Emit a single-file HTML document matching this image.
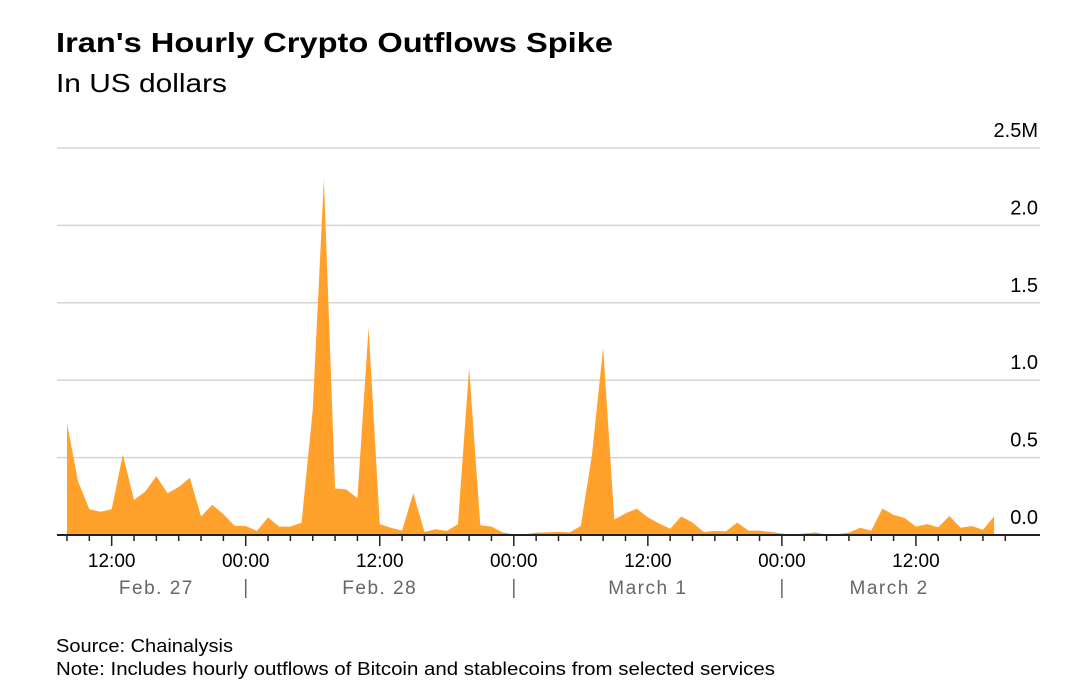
<!DOCTYPE html>
<html><head><meta charset="utf-8"><style>
body{margin:0;background:#fff;}
svg{display:block;font-family:"Liberation Sans",sans-serif;}
</style></head><body>
<svg id="chart" width="1080" height="693">
<text x="56" y="52" font-size="28" font-weight="bold" fill="#000" textLength="557" lengthAdjust="spacingAndGlyphs">Iran's Hourly Crypto Outflows Spike</text>
<text x="56" y="92" font-size="26" fill="#000" textLength="171" lengthAdjust="spacingAndGlyphs">In US dollars</text>
<g id="grid"></g><g id="area"></g><g id="axis"></g>
<text x="56" y="652" font-size="18" fill="#000" textLength="177" lengthAdjust="spacingAndGlyphs">Source: Chainalysis</text>
<text x="56" y="675" font-size="18" fill="#000" textLength="719" lengthAdjust="spacingAndGlyphs">Note: Includes hourly outflows of Bitcoin and stablecoins from selected services</text>
</svg>
<script>
const values=[0.72,0.345,0.166,0.15,0.166,0.52,0.226,0.28,0.38,0.27,0.31,0.37,0.12,0.195,0.135,0.06,0.058,0.026,0.114,0.054,0.054,0.08,0.81,2.3,0.30,0.295,0.237,1.34,0.07,
0.047,0.028,0.27,0.02,0.037,0.026,0.07,1.08,0.063,0.054,0.017,0.004,0.004,0.015,0.017,0.02,0.017,0.058,0.52,1.21,0.10,0.14,0.17,0.114,0.075,0.04,0.12,0.08,
0.02,0.026,0.024,0.08,0.028,0.028,0.02,0.01,0.002,0.01,0.017,0.002,0.006,0.015,0.047,0.028,0.17,0.13,0.11,0.054,0.07,0.05,0.123,0.047,0.058,0.034,0.12];
const yTicks=[0,0.5,1,1.5,2,2.5];
const yTickLabels=["0.0","0.5","1.0","1.5","2.0","2.5M"];
const startHour=8; // 08:00 Feb 27
const hourLabels=["12:00","00:00","12:00","00:00","12:00","00:00","12:00"];
const hourLabelHours=[12,24,36,48,60,72,84];
const dayLabels=["Feb. 27","Feb. 28","March 1","March 2"];
const dayLabelHours=[16,36,60,81.6];
const NS="http://www.w3.org/2000/svg";
const X0=67,PX=11.17,Y0=535,PY=154.8;
const x=h=>X0+(h-startHour)*PX;
const y=v=>Y0-v*PY;
function mk(tag,attrs,parent){const e=document.createElementNS(NS,tag);for(const k in attrs)e.setAttribute(k,attrs[k]);parent.appendChild(e);return e;}
const grid=document.getElementById('grid'),area=document.getElementById('area'),axis=document.getElementById('axis');
yTicks.forEach((t,i)=>{
 if(t>0){const l=mk('line',{x1:57,x2:1040,y1:y(t),y2:y(t),stroke:'#d4d4d4','stroke-width':1.5},grid);
 
 }
 const tx=mk('text',{x:1038,y:y(t)-11,'text-anchor':'end','font-size':20,fill:'#000'},grid);
 tx.textContent=yTickLabels[i];
 
 
});
let d=`M${x(startHour)},${Y0}`;
values.forEach((v,i)=>{d+=` L${x(startHour+i).toFixed(2)},${y(v).toFixed(2)}`;});
d+=` L${x(startHour+values.length-1)},${Y0} Z`;
const p=mk('path',{d:d,fill:'#ffa12b'},area);


const bl=mk('line',{x1:57,x2:1040,y1:Y0,y2:Y0,stroke:'#222','stroke-width':2},axis);


for(let h=startHour;h<=startHour+values.length;h+=2){
 const major=(h%12===0);
 const tk=mk('line',{x1:x(h),x2:x(h),y1:Y0,y2:Y0+(major?11:6),stroke:'#222','stroke-width':1.5},axis);
 
 
}
hourLabels.forEach((s,i)=>{
 const t=mk('text',{x:x(hourLabelHours[i]),y:567,'text-anchor':'middle','font-size':19,fill:'#000'},axis);
 t.textContent=s;
 
 
});
dayLabels.forEach((s,i)=>{
 const t=mk('text',{x:x(dayLabelHours[i]),y:594,'text-anchor':'middle','font-size':19,fill:'#666','letter-spacing':1.5},axis);
 t.textContent=s;
 
 
});
[24,48,72].forEach(h=>{
 const s=mk('line',{x1:x(h),x2:x(h),y1:579,y2:598,stroke:'#666','stroke-width':1.5},axis);
 
 
});
</script>
</body></html>
